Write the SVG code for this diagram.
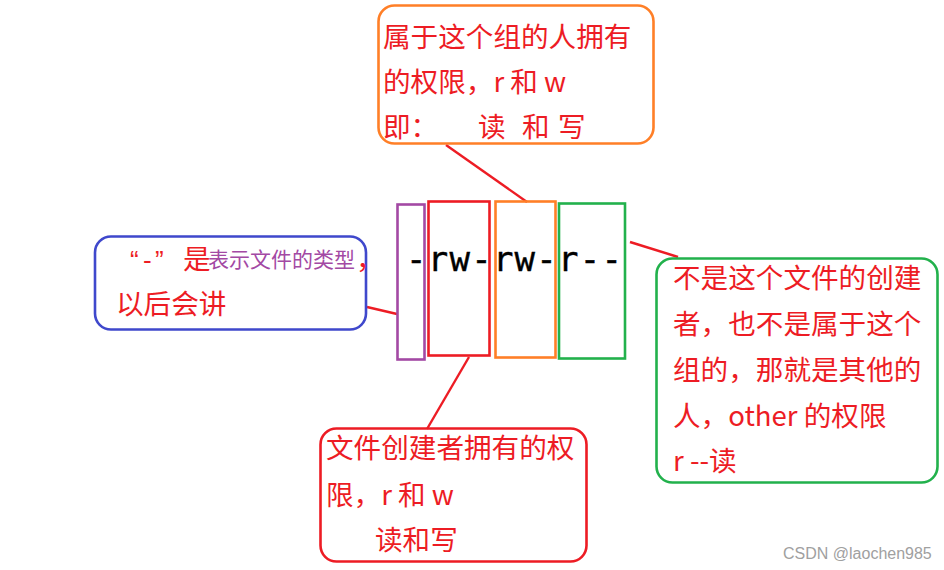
<svg xmlns="http://www.w3.org/2000/svg" width="944" height="570" viewBox="0 0 944 570">
<style>
.t{font-family:"Microsoft YaHei","Noto Sans CJK SC","Noto Sans",sans-serif;font-size:27.6px;fill:#ED1C24}
.p{font-family:"Microsoft YaHei","Noto Sans CJK SC","Noto Sans",sans-serif;font-size:21px;fill:#A349A4}
.q{font-family:"Liberation Sans",Arial,sans-serif;font-size:26px;fill:#ED1C24}
.box{fill:none;stroke-width:2.6}
.con{stroke:#ED1C24;stroke-width:2.4;fill:none}
.mono{font-family:"DejaVu Sans Mono","Liberation Mono",monospace;font-size:34px;fill:#000;stroke:#000;stroke-width:0.4}
</style>
<rect width="944" height="570" fill="#fff"/>
<g id="connectors">
<line class="con" x1="446" y1="145" x2="527" y2="202"/>
<line class="con" x1="367" y1="307" x2="397" y2="314"/>
<line class="con" x1="469" y1="357" x2="427" y2="429"/>
<line class="con" x1="630" y1="242" x2="678" y2="257"/>
</g>
<g id="perm-boxes">
<rect class="box" x="397.5" y="204.5" width="27" height="155" stroke="#A349A4"/>
<rect class="box" x="428.5" y="201.5" width="61" height="154" stroke="#ED1C24"/>
<rect class="box" x="495.5" y="201.5" width="60" height="156" stroke="#FF7F27"/>
<rect class="box" x="559" y="203.5" width="66" height="155" stroke="#22B14C"/>
<text class="mono" x="406" y="271" textLength="216" lengthAdjust="spacing">-rw-rw-r--</text>
</g>
<g id="group-note">
<rect class="box" x="378.5" y="5.5" width="275" height="138" rx="16" stroke="#FF7F27"/>
<text class="t" x="383" y="47">属于这个组的人拥有</text>
<text class="t" x="383" y="92">的权限，r 和 w</text>
<text class="t" y="137"><tspan x="383">即：</tspan><tspan x="478">读</tspan><tspan x="522">和</tspan><tspan x="558">写</tspan></text>
</g>
<g id="type-note">
<rect class="box" x="95" y="236.5" width="271" height="93" rx="16" stroke="#3F48CC"/>
<text class="q" y="269"><tspan x="130">“</tspan><tspan x="143">-</tspan><tspan x="155">”</tspan></text>
<text class="t" x="183" y="269" font-size="26">是</text>
<text class="p" x="208" y="267">表示文件的类型</text>
<text class="t" x="356" y="269">，</text>
<text class="t" x="116" y="314">以后会讲</text>
</g>
<g id="owner-note">
<rect class="box" x="320.5" y="428.5" width="266" height="133" rx="16" stroke="#ED1C24"/>
<text class="t" x="326" y="458">文件创建者拥有的权</text>
<text class="t" x="326" y="505">限，r 和 w</text>
<text class="t" x="375" y="550">读和写</text>
</g>
<g id="other-note">
<rect class="box" x="656.5" y="258.5" width="281" height="224" rx="16" stroke="#22B14C"/>
<text class="t" x="673" y="288">不是这个文件的创建</text>
<text class="t" x="673" y="334">者，也不是属于这个</text>
<text class="t" x="673" y="380">组的，那就是其他的</text>
<text class="t" x="673" y="426">人，other 的权限</text>
<text class="t" x="673" y="471">r --读</text>
</g>
<text x="783" y="559" font-family="Liberation Sans, Arial, sans-serif" font-size="16" fill="#a0a0a0">CSDN @laochen985</text>
</svg>
